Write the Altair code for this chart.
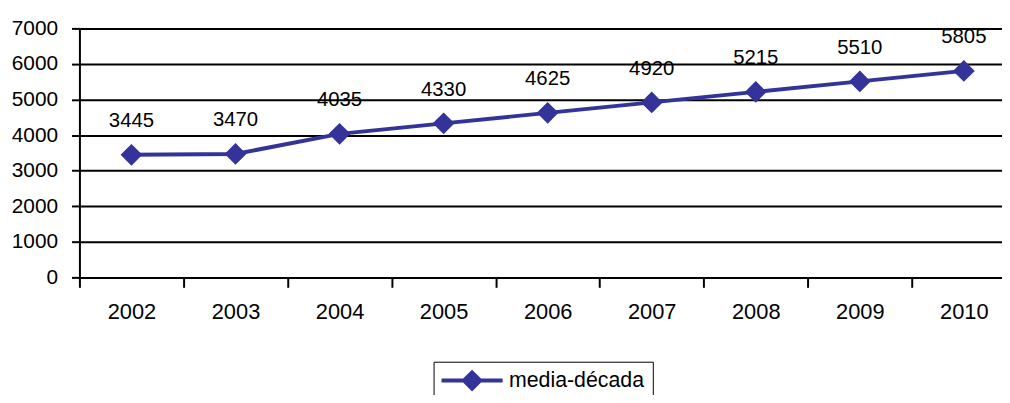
import altair as alt
import pandas as pd

years = ["2002", "2003", "2004", "2005", "2006", "2007", "2008", "2009", "2010"]
values = [3445, 3470, 4035, 4330, 4625, 4920, 5215, 5510, 5805]
series_name = "media-década"
y_ticks = [0, 1000, 2000, 3000, 4000, 5000, 6000, 7000]

df = pd.DataFrame({"year": years, "value": values, "serie": [series_name] * len(years)})

FONT = "Liberation Sans"
COLOR = "#333399"

legend_symbol = ("M-1,-0.18H0.98L1.8,-1L2.62,-0.18H4.6V0.18H2.62L1.8,1"
                 "L0.98,0.18H-1Z")

x_enc = alt.X(
    "year:O",
    title=None,
    bandPosition=0.5,
    scale=alt.Scale(type="band", paddingInner=0, paddingOuter=0),
    axis=alt.Axis(
        tickBand="extent", labelAngle=0, labelFont=FONT, labelFontSize=22,
        labelColor="black", labelPadding=14, tickSize=10, tickColor="black",
        tickWidth=2, domainColor="black", domainWidth=2, grid=False,
    ),
)
y_enc = alt.Y(
    "value:Q",
    title=None,
    scale=alt.Scale(domain=[0, 7000], nice=False),
    axis=alt.Axis(
        values=y_ticks, format="d", grid=True, gridColor="black", gridWidth=2,
        gridOpacity=1, tickSize=8, tickColor="black", tickWidth=2,
        domainColor="black", domainWidth=2, labelFont=FONT, labelFontSize=21,
        labelColor="black", labelPadding=14,
    ),
)
color_enc = alt.Color(
    "serie:N",
    title=None,
    scale=alt.Scale(domain=[series_name], range=[COLOR]),
    legend=alt.Legend(
        orient="none", legendX=357, legendY=336, strokeColor="black",
        padding=8, symbolType=legend_symbol, symbolSize=484,
        symbolFillColor=COLOR, symbolStrokeColor=COLOR, symbolStrokeWidth=0,
        labelFont=FONT, labelFontSize=21.5, labelColor="black", labelOffset=46,
        direction="horizontal",
    ),
)

base = alt.Chart(df).encode(x=x_enc, y=y_enc)

line = base.mark_line(strokeWidth=4).encode(color=color_enc)
points = base.mark_point(shape="diamond", filled=True, size=480, opacity=1).encode(color=color_enc)
labels = base.mark_text(dy=-34, font=FONT, fontSize=20.5, color="black", baseline="middle").encode(
    text=alt.Text("value:Q", format="d")
)

chart = (
    alt.layer(line, points, labels)
    .properties(
        width=944,
        height=251,
        autosize=alt.AutoSizeParams(type="none"),
        padding={"left": 72, "top": 19, "right": -14, "bottom": 117},
        background="white",
    )
    .configure_view(stroke=None)
)

chart.save("out.html", embed_options={"renderer": "svg", "actions": False})
